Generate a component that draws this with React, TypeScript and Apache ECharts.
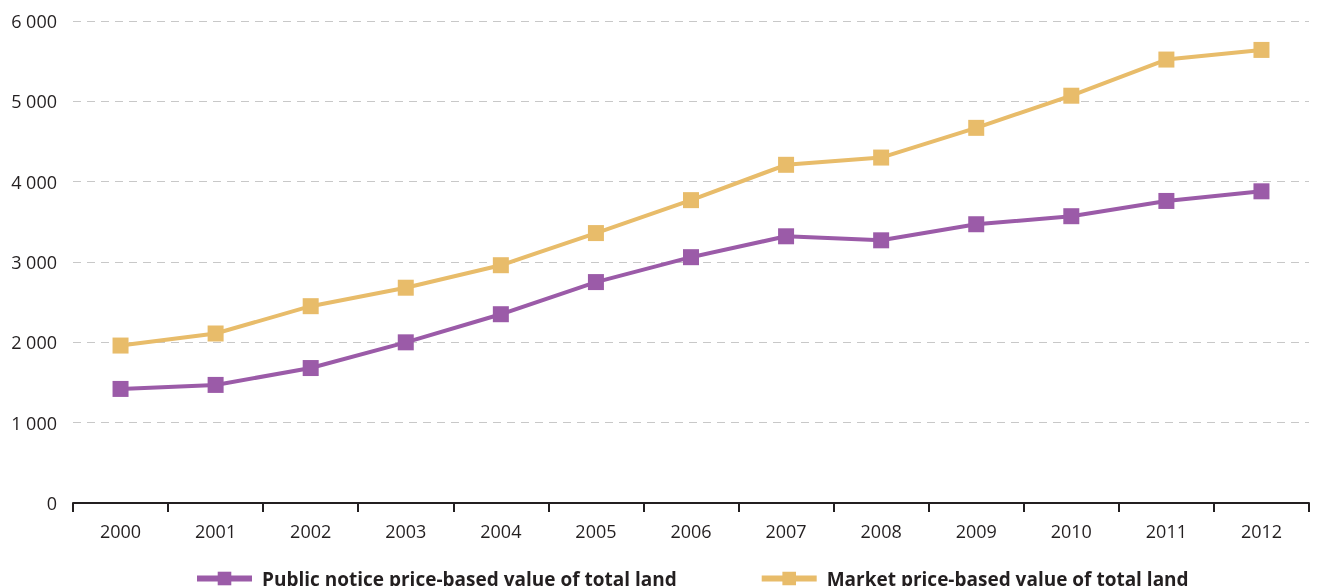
import React, { useEffect, useRef } from "react";
import * as echarts from "echarts";

const years = ["2000","2001","2002","2003","2004","2005","2006","2007","2008","2009","2010","2011","2012"];
const publicNotice = [1420, 1470, 1680, 2000, 2350, 2750, 3060, 3320, 3270, 3470, 3570, 3760, 3880];
const marketPrice = [1960, 2110, 2450, 2680, 2960, 3360, 3770, 4210, 4300, 4670, 5070, 5520, 5640];
const seriesNames = ["Public notice price-based value of total land", "Market price-based value of total land"];

export default function App() {
  const ref = useRef<HTMLDivElement>(null);
  useEffect(() => {
    if (!ref.current) return;
    const chart = echarts.init(ref.current, null, { renderer: "svg" });
    const font = "'Open Sans', 'Noto Sans', sans-serif";
    chart.setOption({
      animation: false,
      textStyle: { fontFamily: font },
      grid: { left: 73, right: 8, top: 21, bottom: 83, containLabel: false },
      legend: {
        top: 564,
        left: 189,
        itemGap: 82,
        itemWidth: 55,
        itemHeight: 17,
        lineStyle: { width: 6 },
        textStyle: { fontSize: 19, fontWeight: "bold", color: "#231f20", fontFamily: font, padding: [0, 0, 0, 5] },
        data: seriesNames,
      },
      xAxis: {
        type: "category",
        data: years,
        boundaryGap: true,
        axisLine: { lineStyle: { color: "#231f20", width: 2 } },
        axisTick: { show: true, alignWithLabel: false, length: 9, lineStyle: { color: "#231f20", width: 2 } },
        axisLabel: { fontSize: 18, color: "#231f20", margin: 19, fontFamily: font },
      },
      yAxis: {
        type: "value",
        min: 0,
        max: 6000,
        interval: 1000,
        axisLine: { show: false },
        axisTick: { show: false },
        axisLabel: {
          fontSize: 18,
          color: "#231f20",
          margin: 16,
          fontFamily: font,
          formatter: (v: number) => (v >= 1000 ? Math.floor(v / 1000) + " " + String(v % 1000).padStart(3, "0") : String(v)),
        },
        splitLine: { lineStyle: { color: "#c8c8c8", width: 1, type: [8, 6] } },
      },
      series: [
        {
          name: seriesNames[0],
          type: "line",
          data: publicNotice,
          symbol: "rect",
          symbolSize: 16,
          itemStyle: { color: "#9b5ba8" },
          lineStyle: { color: "#9b5ba8", width: 4 },
        },
        {
          name: seriesNames[1],
          type: "line",
          data: marketPrice,
          symbol: "rect",
          symbolSize: 16,
          itemStyle: { color: "#e8bc6a" },
          lineStyle: { color: "#e8bc6a", width: 4 },
        },
      ],
    });
    return () => chart.dispose();
  }, []);
  return <div ref={ref} style={{ position: "fixed", left: 0, top: 0, width: 1317, height: 586 }} />;
}
